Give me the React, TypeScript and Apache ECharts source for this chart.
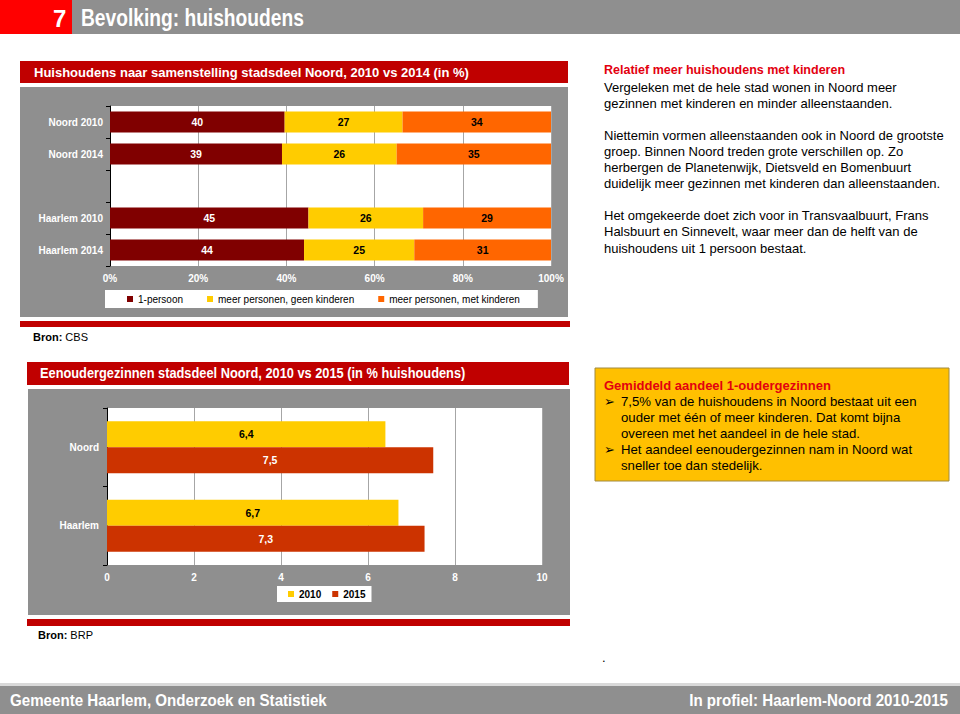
import React, { useEffect, useRef } from "react";
import * as echarts from "echarts";

// ---------- data ----------
const topCategories = ["Noord 2010", "Noord 2014", "", "Haarlem 2010", "Haarlem 2014"];
const onePerson = [40, 39, null, 45, 44];
const noKids = [27, 26, null, 26, 25];
const withKids = [34, 35, null, 29, 31];
const topSeriesNames = ["1-persoon", "meer personen, geen kinderen", "meer personen, met kinderen"];
const topTicks = [0, 20, 40, 60, 80, 100];

const bottomCategories = ["Noord", "Haarlem"];
const single2010 = [6.4, 6.7];
const single2015 = [7.5, 7.3];
const bottomSeriesNames = ["2010", "2015"];

const rightParagraphLines = [
  "Vergeleken met de hele stad wonen in Noord meer",
  "gezinnen met kinderen en minder alleenstaanden.",
  "",
  "Niettemin vormen alleenstaanden ook in Noord de grootste",
  "groep. Binnen Noord treden grote verschillen op. Zo",
  "herbergen de Planetenwijk, Dietsveld en Bomenbuurt",
  "duidelijk meer gezinnen met kinderen dan alleenstaanden.",
  "",
  "Het omgekeerde doet zich voor in Transvaalbuurt, Frans",
  "Halsbuurt en Sinnevelt, waar meer dan de helft van de",
  "huishoudens uit 1 persoon bestaat.",
];
const boxLines = [
  { bullet: true, text: "7,5% van de huishoudens in Noord bestaat uit een" },
  { bullet: false, text: "ouder met één of meer kinderen. Dat komt bijna" },
  { bullet: false, text: "overeen met het aandeel in de hele stad." },
  { bullet: true, text: "Het aandeel eenoudergezinnen nam in Noord wat" },
  { bullet: false, text: "sneller toe dan stedelijk." },
];

const FONT = 'Arial, "Liberation Sans", Helvetica, sans-serif';
const RED = "#C00000";
const GRAY = "#8F8F8F";

function normalized(idx: number) {
  const cols = [onePerson, noKids, withKids];
  return cols[idx].map((v, i) => {
    if (v == null) return "-";
    const sum = (onePerson[i] as number) + (noKids[i] as number) + (withKids[i] as number);
    return { value: ((v as number) / sum) * 100, raw: v };
  });
}

export default function App() {
  const ref = useRef<HTMLDivElement>(null);
  useEffect(() => {
    const chart = echarts.init(ref.current!, undefined, { renderer: "svg" });

    const txt = (text: string, x: number, y: number, o: any = {}) => ({
      type: "text",
      x,
      y,
      scaleX: o.scaleX ?? 1,
      z: 20,
      style: {
        text,
        x: 0,
        y: 0,
        fill: o.fill ?? "#000",
        fontSize: o.fontSize ?? 13,
        fontWeight: o.fontWeight ?? "normal",
        fontFamily: o.fontFamily ?? FONT,
        align: o.align ?? "left",
        verticalAlign: "middle",
        rich: o.rich,
      },
    });
    const rect = (x: number, y: number, w: number, h: number, fill: string, extra: any = {}) => ({
      type: "rect",
      z: -10,
      shape: { x, y, width: w, height: h },
      style: { fill, ...extra },
    });

    const graphics: any[] = [
      rect(0, 0, 72, 34, "#FF0000"),
      rect(72, 0, 888, 34, GRAY),
      txt("7", 53, 18, { fill: "#fff", fontSize: 24, fontWeight: "bold" }),
      txt("Bevolking: huishoudens", 81, 18, { fill: "#fff", fontSize: 24, fontWeight: "bold", scaleX: 0.8 }),
      // top chart frame
      rect(20, 61, 548, 22, RED),
      txt("Huishoudens naar samenstelling stadsdeel Noord, 2010 vs 2014 (in %)", 34, 72, {
        fill: "#fff", fontSize: 13, fontWeight: "bold",
      }),
      rect(20, 87, 548, 230, GRAY),
      rect(20, 321, 550, 6, RED),
      txt("{b|Bron:} CBS", 33, 337, { fontSize: 11, rich: { b: { fontWeight: "bold", fontSize: 11, fontFamily: FONT } } }),
      // bottom chart frame
      rect(27, 362, 542, 23, RED),
      txt("Eenoudergezinnen stadsdeel Noord, 2010 vs 2015 (in % huishoudens)", 40, 373, {
        fill: "#fff", fontSize: 14, fontWeight: "bold", scaleX: 0.915,
      }),
      rect(28, 389, 542, 226, GRAY),
      rect(27, 619, 543, 7, RED),
      txt("{b|Bron:} BRP", 38, 635, { fontSize: 11, rich: { b: { fontWeight: "bold", fontSize: 11, fontFamily: FONT } } }),
      // right text
      txt("Relatief meer huishoudens met kinderen", 604, 70, { fill: "#E3000F", fontSize: 12.5, fontWeight: "bold" }),
      ...rightParagraphLines
        .map((l, i) => (l ? txt(l, 604, 87 + i * 16.1, { fontSize: 13 }) : null))
        .filter(Boolean),
      // box
      rect(595, 368, 354, 113, "#FFC000", { stroke: "#A08A40", lineWidth: 1 }),
      txt("Gemiddeld aandeel 1-oudergezinnen", 604, 385, { fill: "#E3000F", fontSize: 13, fontWeight: "bold" }),
      ...boxLines.flatMap((l, i) => {
        const y = 401 + i * 16;
        const arr: any[] = [txt(l.text, 621, y, { fontSize: 13.2 })];
        if (l.bullet) arr.push(txt("➢", 604, y, { fontSize: 13, fontFamily: '"DejaVu Sans", sans-serif' }));
        return arr;
      }),
      txt(".", 602, 657, { fontSize: 13 }),
      // footer
      rect(0, 683, 960, 3, "#D9D9D9"),
      rect(0, 686, 960, 28, GRAY),
      txt("Gemeente Haarlem, Onderzoek en Statistiek", 10, 700, { fill: "#fff", fontSize: 17, fontWeight: "bold", scaleX: 0.89 }),
      txt("In profiel: Haarlem-Noord 2010-2015", 948, 700, { fill: "#fff", fontSize: 17, fontWeight: "bold", scaleX: 0.89, align: "right" }),
    ];

    const axisLabelWhite = { color: "#fff", fontWeight: "bold" as const, fontSize: 10, fontFamily: FONT };
    const topColors = ["#800000", "#FFCC00", "#FF6600"];
    const topLabelColors = ["#fff", "#000", "#000"];
    const bottomColors = ["#FFCC00", "#CC3300"];
    const bottomLabelColors = ["#000", "#fff"];

    chart.setOption({
      animation: false,
      graphic: { elements: graphics },
      grid: [
        { left: 110, right: 409, top: 106, bottom: 448, show: true, backgroundColor: "#fff", borderWidth: 0 },
        { left: 107, right: 418, top: 408, bottom: 149, show: true, backgroundColor: "#fff", borderWidth: 0 },
      ],
      legend: [
        {
          data: topSeriesNames,
          left: 105,
          top: 290,
          orient: "horizontal",
          backgroundColor: "#fff",
          padding: [4, 18, 4, 22],
          itemGap: 24,
          itemWidth: 6,
          itemHeight: 6,
          icon: "rect",
          textStyle: { color: "#000", fontSize: 10, fontFamily: FONT },
        },
        {
          data: bottomSeriesNames,
          left: 277,
          top: 586,
          backgroundColor: "#fff",
          padding: [3, 6, 3, 11],
          itemGap: 11,
          itemWidth: 6,
          itemHeight: 6,
          icon: "rect",
          textStyle: { color: "#000", fontSize: 10, fontWeight: "bold", fontFamily: FONT },
        },
      ],
      xAxis: [
        {
          type: "value",
          gridIndex: 0,
          min: topTicks[0],
          max: topTicks[topTicks.length - 1],
          interval: 20,
          axisLine: { show: false },
          axisTick: { show: false },
          axisLabel: { ...axisLabelWhite, formatter: "{value}%", margin: 7 },
          splitLine: { show: true, lineStyle: { color: "#A6A6A6", width: 1 } },
        },
        {
          type: "value",
          gridIndex: 1,
          min: 0,
          max: 10,
          interval: 2,
          axisLine: { show: false },
          axisTick: { show: false },
          axisLabel: { ...axisLabelWhite, margin: 7 },
          splitLine: { show: true, lineStyle: { color: "#A6A6A6", width: 1 } },
        },
      ],
      yAxis: [
        {
          type: "category",
          gridIndex: 0,
          inverse: true,
          data: topCategories,
          axisLine: { show: true, lineStyle: { color: "#000", width: 1 } },
          axisTick: { show: true, length: 4, lineStyle: { color: "#000" } },
          axisLabel: { ...axisLabelWhite, margin: 7 },
        },
        {
          type: "category",
          gridIndex: 1,
          inverse: true,
          data: bottomCategories,
          axisLine: { show: true, lineStyle: { color: "#000", width: 1 } },
          axisTick: { show: true, length: 4, lineStyle: { color: "#000" } },
          axisLabel: { ...axisLabelWhite, margin: 8 },
        },
      ],
      series: [
        ...topSeriesNames.map((name, i) => ({
          name,
          type: "bar",
          stack: "top",
          xAxisIndex: 0,
          yAxisIndex: 0,
          barWidth: 21,
          itemStyle: { color: topColors[i] },
          label: {
            show: true,
            position: "inside",
            color: topLabelColors[i],
            fontWeight: "bold",
            fontSize: 10.5,
            fontFamily: FONT,
            formatter: (p: any) => (p.data && p.data.raw != null ? String(p.data.raw) : ""),
          },
          data: normalized(i),
        })),
        ...[single2010, single2015].map((vals, i) => ({
          name: bottomSeriesNames[i],
          type: "bar",
          xAxisIndex: 1,
          yAxisIndex: 1,
          barWidth: 26,
          barGap: "0%",
          itemStyle: { color: bottomColors[i] },
          label: {
            show: true,
            position: "inside",
            color: bottomLabelColors[i],
            fontWeight: "bold",
            fontSize: 10.5,
            fontFamily: FONT,
            formatter: (p: any) => String(p.value).replace(".", ","),
          },
          data: vals,
        })),
      ],
    });
    return () => chart.dispose();
  }, []);

  return (
    <div
      ref={ref}
      style={{ position: "fixed", left: 0, top: 0, width: 960, height: 714, background: "#fff" }}
    />
  );
}
